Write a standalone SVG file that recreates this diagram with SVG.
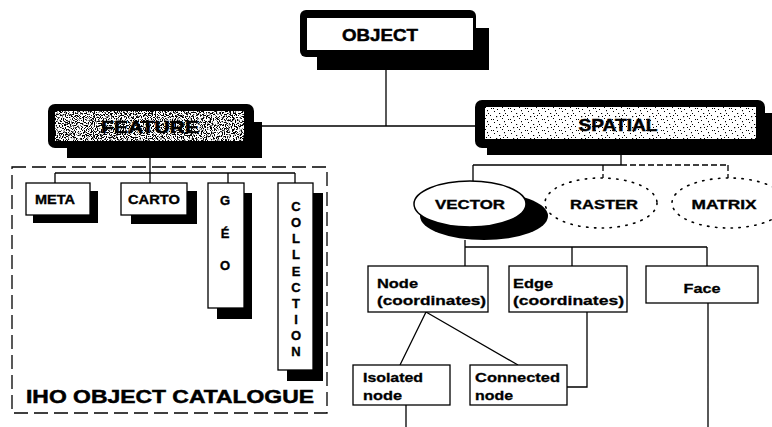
<svg xmlns="http://www.w3.org/2000/svg" width="772" height="427" viewBox="0 0 772 427">
<defs>
<filter id="noiseDark" x="0" y="0" width="1" height="1" filterUnits="objectBoundingBox">
<feTurbulence type="fractalNoise" baseFrequency="0.9" numOctaves="2" seed="4"/>
<feColorMatrix type="matrix" values="0 0 0 0 0  0 0 0 0 0  0 0 0 0 0  12 0 0 0 -5.9"/>
</filter>
<pattern id="stip" width="17" height="11" patternUnits="userSpaceOnUse">
<rect width="17" height="11" fill="#fff"/>
<g fill="#000">
<rect x="1" y="1" width="1" height="1"/><rect x="6" y="3" width="1.2" height="1"/><rect x="11" y="0" width="1" height="1.2"/>
<rect x="14" y="5" width="1" height="1"/><rect x="3" y="6" width="1.2" height="1.2"/><rect x="9" y="8" width="1" height="1"/>
<rect x="15" y="9" width="1" height="1"/><rect x="0" y="9" width="1" height="1"/><rect x="7" y="6" width="1" height="1"/>
<rect x="12" y="3" width="1" height="1"/><rect x="4" y="10" width="1" height="1"/><rect x="10" y="5" width="1" height="1"/>
</g>
</pattern>
<style>
.t{font-family:"Liberation Sans",Arial,sans-serif;font-weight:bold;fill:#000}
.big{font-size:17px;stroke:#000;stroke-width:0.5}
.mid{font-size:13px;stroke:#000;stroke-width:0.35}
.sm{font-size:13px;stroke:#000;stroke-width:0.3}
.box{fill:#fff;stroke:#000;stroke-width:1.3}
.sh{fill:#000}
.ln{fill:none;stroke:#000;stroke-width:1.3}
.dl{fill:none;stroke:#000;stroke-width:1.3;stroke-dasharray:6 3}
.dot{fill:#fff;stroke:#000;stroke-width:1.6;stroke-dasharray:1.4 6.5;stroke-linecap:round}
</style>
</defs>
<rect width="772" height="427" fill="#fff"/>

<g id="connectors">
<path class="ln" d="M386 70V126M262 126H475"/>
<path class="ln" d="M150 158V183M55 173H295M55 173V183M228 173V183M295 173V183"/>
<path class="ln" d="M621 155V165M473 165H621M473 165V182"/>
<path class="dl" d="M621 165H728M603 165V178M728 165V178"/>
<path class="ln" d="M465 240V247M465 247H707M465 247V266M572 247V266M707 247V266"/>
<path class="ln" d="M426 312L400 365M426 312L518 365M587 312V387H567M406 405V427M708 303V427"/>
</g>

<g id="catalogue">
<rect x="12" y="167" width="315" height="246" fill="none" stroke="#000" stroke-width="1.3" stroke-dasharray="14 6"/>
<text class="t" x="170" y="403" text-anchor="middle" font-size="19" stroke="#000" stroke-width="0.5" textLength="288" lengthAdjust="spacingAndGlyphs">IHO OBJECT CATALOGUE</text>
</g>

<g id="object">
<rect class="sh" x="317" y="28" width="172" height="42"/>
<rect x="300" y="10" width="176" height="47" rx="6" fill="#000"/>
<rect x="307" y="18" width="166" height="32" fill="#fff"/>
<text class="t big" x="380" y="41" text-anchor="middle" textLength="76" lengthAdjust="spacingAndGlyphs">OBJECT</text>
</g>

<g id="feature">
<rect class="sh" x="67" y="122" width="195" height="36"/>
<rect x="48" y="104" width="206" height="44" rx="7" fill="#000"/>
<rect x="55" y="111" width="189" height="30" fill="#fff"/>
<rect x="55" y="111" width="189" height="30" fill="#000" filter="url(#noiseDark)"/>
<text class="t big" x="150" y="133" text-anchor="middle" stroke="#fff" stroke-width="0.8" paint-order="stroke" textLength="98" lengthAdjust="spacingAndGlyphs">FEATURE</text>
</g>

<g id="spatial">
<rect class="sh" x="487" y="113" width="290" height="42"/>
<rect x="475" y="100" width="290" height="48" rx="7" fill="#000"/>
<rect x="485" y="107" width="271" height="32" fill="url(#stip)"/>
<text class="t big" x="618" y="131" text-anchor="middle" textLength="79" lengthAdjust="spacingAndGlyphs">SPATIAL</text>
</g>

<g id="meta">
<rect class="sh" x="33" y="191" width="65" height="32"/>
<rect class="box" x="26" y="183" width="64" height="32"/>
<text class="t mid" x="55" y="204" text-anchor="middle" textLength="40" lengthAdjust="spacingAndGlyphs">META</text>
</g>

<g id="carto">
<rect class="sh" x="131" y="191" width="66" height="33"/>
<rect class="box" x="121" y="183" width="66" height="32"/>
<text class="t mid" x="154" y="204" text-anchor="middle" textLength="52" lengthAdjust="spacingAndGlyphs">CARTO</text>
</g>

<g id="geo">
<rect class="sh" x="217" y="193" width="35" height="126"/>
<rect class="box" x="208" y="183" width="36" height="125"/>
<g class="t mid" text-anchor="middle">
<text x="225" y="205">G</text>
<text x="225" y="238">É</text>
<text x="225" y="270">O</text>
</g>
</g>

<g id="collection">
<rect class="sh" x="287" y="193" width="36" height="188"/>
<rect class="box" x="278" y="183" width="35" height="187"/>
<g class="t mid" text-anchor="middle">
<text x="296" y="211">C</text>
<text x="296" y="227">O</text>
<text x="296" y="243">L</text>
<text x="296" y="259">L</text>
<text x="296" y="276">E</text>
<text x="296" y="292">C</text>
<text x="296" y="308">T</text>
<text x="296" y="324">I</text>
<text x="296" y="340">O</text>
<text x="296" y="356">N</text>
</g>
</g>

<g id="vector">
<ellipse cx="484" cy="216" rx="64" ry="24" fill="#000"/>
<ellipse cx="470" cy="204" rx="56" ry="23" fill="#fff" stroke="#000" stroke-width="1.5"/>
<text class="t mid" x="470" y="209" text-anchor="middle" font-size="14" textLength="70" lengthAdjust="spacingAndGlyphs">VECTOR</text>
</g>

<g id="raster">
<ellipse class="dot" cx="601" cy="203" rx="56" ry="25"/>
<text class="t mid" x="604" y="209" text-anchor="middle" font-size="14" textLength="68" lengthAdjust="spacingAndGlyphs">RASTER</text>
</g>

<g id="matrix">
<ellipse class="dot" cx="729" cy="203" rx="57" ry="25"/>
<text class="t mid" x="724" y="209" text-anchor="middle" font-size="14" textLength="65" lengthAdjust="spacingAndGlyphs">MATRIX</text>
</g>

<g id="node">
<rect class="box" x="368" y="266" width="120" height="46"/>
<text class="t sm" x="377" y="288" textLength="41" lengthAdjust="spacingAndGlyphs">Node</text>
<text class="t sm" x="377" y="305" textLength="109" lengthAdjust="spacingAndGlyphs">(coordinates)</text>
</g>

<g id="edge">
<rect class="box" x="509" y="266" width="118" height="46"/>
<text class="t sm" x="513" y="288" textLength="40" lengthAdjust="spacingAndGlyphs">Edge</text>
<text class="t sm" x="513" y="305" textLength="111" lengthAdjust="spacingAndGlyphs">(coordinates)</text>
</g>

<g id="face">
<rect class="box" x="646" y="266" width="112" height="37"/>
<text class="t sm" x="702" y="293" text-anchor="middle" textLength="37" lengthAdjust="spacingAndGlyphs">Face</text>
</g>

<g id="isolated">
<rect class="box" x="353" y="365" width="97" height="40"/>
<text class="t sm" x="363" y="382" textLength="60" lengthAdjust="spacingAndGlyphs">Isolated</text>
<text class="t sm" x="363" y="400" textLength="39" lengthAdjust="spacingAndGlyphs">node</text>
</g>

<g id="connected">
<rect class="box" x="470" y="365" width="97" height="40"/>
<text class="t sm" x="475" y="382" textLength="85" lengthAdjust="spacingAndGlyphs">Connected</text>
<text class="t sm" x="475" y="400" textLength="38" lengthAdjust="spacingAndGlyphs">node</text>
</g>
</svg>
